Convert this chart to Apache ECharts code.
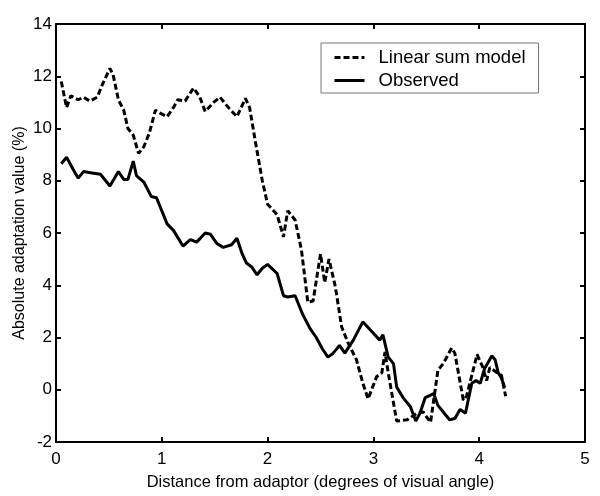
<!DOCTYPE html>
<html>
<head>
<meta charset="utf-8">
<script src="https://cdn.jsdelivr.net/npm/echarts@6/dist/echarts.min.js"></script>
</head>
<body style="margin:0;background:#fff">
<div id="chart" style="width:600px;height:496px"></div>
<script>
// [distance, value] pairs
const linearSum = [
  [0.05, 11.8], [0.10, 10.8], [0.14, 11.25], [0.21, 11.1], [0.26, 11.2], [0.32, 11.05],
  [0.39, 11.2], [0.44, 11.7], [0.51, 12.3], [0.54, 12.05], [0.59, 11.1], [0.64, 10.7],
  [0.68, 10.0], [0.73, 9.75], [0.78, 9.05], [0.83, 9.3], [0.88, 9.8], [0.94, 10.7],
  [0.98, 10.6], [1.05, 10.45], [1.11, 10.8], [1.15, 11.1], [1.22, 11.05], [1.30, 11.55],
  [1.36, 11.2], [1.41, 10.65], [1.49, 11.0], [1.55, 11.2], [1.63, 10.8], [1.71, 10.45],
  [1.79, 11.15], [1.83, 10.8], [1.88, 9.6], [1.95, 8.0], [2.00, 7.1], [2.09, 6.7],
  [2.15, 5.85], [2.19, 6.85], [2.26, 6.5], [2.32, 5.35], [2.38, 3.35], [2.43, 3.4],
  [2.50, 5.2], [2.54, 4.1], [2.58, 5.0], [2.64, 3.95], [2.70, 2.4], [2.76, 1.8],
  [2.84, 1.15], [2.90, 0.25], [2.95, -0.35], [3.03, 0.5], [3.08, 0.65], [3.11, 1.45],
  [3.14, 0.65], [3.22, -1.2], [3.32, -1.15], [3.41, -0.9], [3.47, -0.85], [3.54, -1.25],
  [3.61, 0.75], [3.66, 1.0], [3.74, 1.6], [3.77, 1.4], [3.85, -0.4], [3.88, -0.25],
  [3.98, 1.35], [4.03, 0.9], [4.07, 0.35], [4.10, 0.85], [4.17, 0.65], [4.21, 0.55],
  [4.25, -0.25]
];
const observed = [
  [0.05, 8.65], [0.10, 8.9], [0.16, 8.45], [0.21, 8.1], [0.26, 8.35], [0.34, 8.3],
  [0.42, 8.25], [0.51, 7.8], [0.59, 8.35], [0.64, 8.05], [0.68, 8.05], [0.73, 8.75],
  [0.76, 8.2], [0.83, 7.95], [0.90, 7.4], [0.95, 7.35], [1.05, 6.35], [1.11, 6.1],
  [1.20, 5.5], [1.27, 5.75], [1.33, 5.65], [1.41, 6.0], [1.46, 5.95], [1.52, 5.6],
  [1.58, 5.45], [1.66, 5.55], [1.71, 5.8], [1.76, 5.2], [1.80, 4.85], [1.85, 4.7],
  [1.90, 4.4], [1.95, 4.65], [2.00, 4.8], [2.09, 4.45], [2.15, 3.6], [2.19, 3.55],
  [2.26, 3.6], [2.33, 2.9], [2.40, 2.35], [2.46, 2.0], [2.52, 1.55], [2.57, 1.25],
  [2.62, 1.4], [2.68, 1.7], [2.73, 1.4], [2.81, 1.9], [2.90, 2.6], [2.98, 2.25],
  [3.06, 1.9], [3.09, 2.1], [3.14, 1.25], [3.19, 1.0], [3.22, 0.1], [3.28, -0.3],
  [3.35, -0.65], [3.40, -1.2], [3.44, -0.9], [3.49, -0.3], [3.57, -0.15], [3.61, -0.6],
  [3.66, -0.85], [3.72, -1.15], [3.77, -1.1], [3.82, -0.75], [3.87, -0.9], [3.93, 0.25],
  [3.97, 0.35], [4.01, 0.25], [4.05, 0.8], [4.12, 1.3], [4.15, 1.15], [4.18, 0.65],
  [4.21, 0.45], [4.24, 0.1]
];

const font = 'Liberation Sans, Arial, sans-serif';
const frame = { show: true, onZero: false, lineStyle: { color: '#000', width: 2 } };
const ticks = { show: true, inside: true, length: 5, lineStyle: { color: '#000', width: 2 } };

const chart = echarts.init(document.getElementById('chart'));
chart.setOption({
  animation: false,
  backgroundColor: '#fff',
  grid: { left: 56, right: 15, top: 24, bottom: 54, outerBoundsMode: 'none', containLabel: false },
  legend: {
    orient: 'vertical',
    left: 321, top: 43,
    padding: [5, 13, 3, 12],
    backgroundColor: '#fff',
    borderColor: '#777', borderWidth: 1,
    itemWidth: 30, itemHeight: 10, itemGap: 4,
    itemStyle: { color: 'rgba(0,0,0,0)', borderWidth: 0 },
    lineStyle: { width: 3 },
    textStyle: { fontFamily: font, fontSize: 18.5, color: '#000', padding: [0, 0, 0, 9] },
    data: ['Linear sum model', 'Observed']
  },
  xAxis: [{
    type: 'value', min: 0, max: 5, interval: 1,
    name: 'Distance from adaptor (degrees of visual angle)',
    nameLocation: 'middle', nameGap: 32,
    nameTextStyle: { fontFamily: font, fontSize: 16.5, color: '#000' },
    axisLine: frame, axisTick: ticks, splitLine: { show: false },
    axisLabel: { fontFamily: font, fontSize: 17, color: '#000', margin: 9 }
  }, {
    type: 'value', min: 0, max: 5, interval: 1, position: 'top',
    axisLine: frame, axisTick: ticks, axisLabel: { show: false }, splitLine: { show: false }
  }],
  yAxis: [{
    type: 'value', min: -2, max: 14, interval: 2,
    name: 'Absolute adaptation value (%)',
    nameLocation: 'middle', nameGap: 28, nameMoveOverlap: false,
    nameTextStyle: { fontFamily: font, fontSize: 16, color: '#000' },
    axisLine: frame, axisTick: ticks, splitLine: { show: false },
    axisLabel: { fontFamily: font, fontSize: 17, color: '#000', margin: 4 }
  }, {
    type: 'value', min: -2, max: 14, interval: 2, position: 'right',
    axisLine: frame, axisTick: ticks, axisLabel: { show: false }, splitLine: { show: false }
  }],
  series: [{
    name: 'Linear sum model', type: 'line', data: linearSum,
    showSymbol: false, symbol: 'none',
    lineStyle: { color: '#000', width: 3, type: [6, 3] },
    itemStyle: { color: '#000' }
  }, {
    name: 'Observed', type: 'line', data: observed,
    showSymbol: false, symbol: 'none',
    lineStyle: { color: '#000', width: 3 },
    itemStyle: { color: '#000' }
  }]
});
</script>
</body>
</html>
